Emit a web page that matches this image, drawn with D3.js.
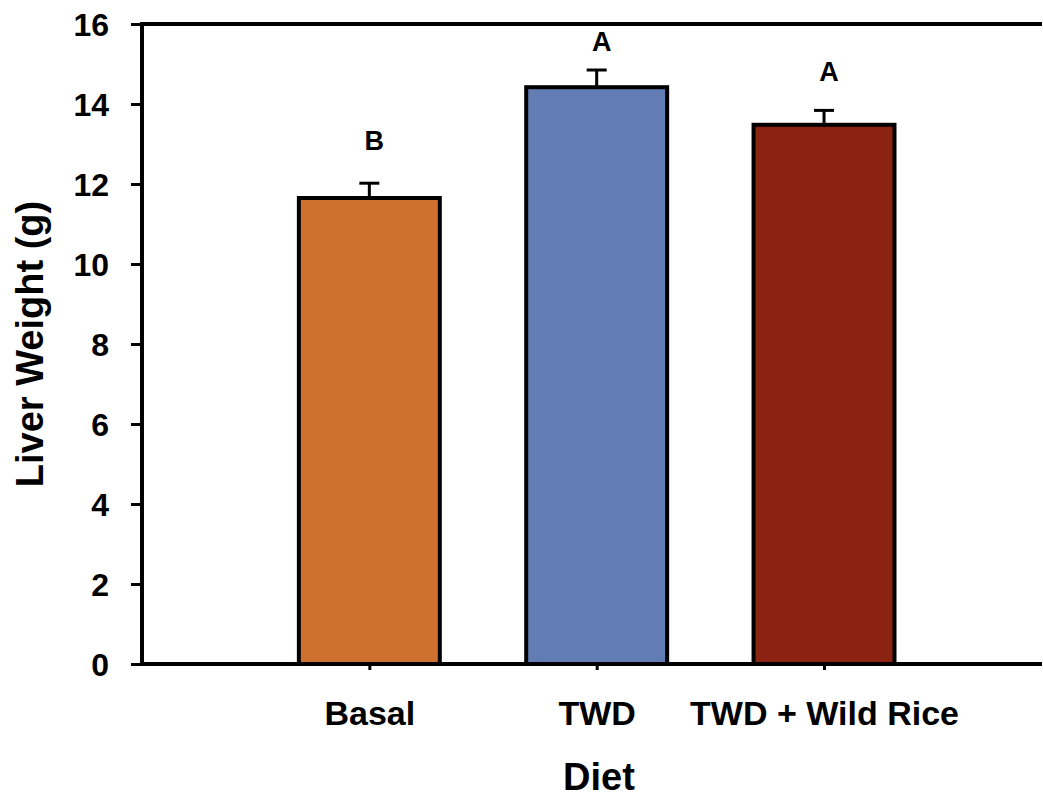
<!DOCTYPE html>
<html>
<head>
<meta charset="utf-8">
<script src="https://cdnjs.cloudflare.com/ajax/libs/d3/7.8.5/d3.min.js"></script>
<style>
  body { margin: 0; background: #fff; }
  text { font-family: "Liberation Sans", Arial, sans-serif; font-weight: bold; }
</style>
</head>
<body>
<div class="chart-container"></div>
<script>
const svgWidth = 1043;
const svgHeight = 798;

const diets = ["Basal", "TWD", "TWD + Wild Rice"];
const liverWeight = [11.65, 14.42, 13.48];
const liverErr = [0.37, 0.43, 0.36];
const sigLetters = ["B", "A", "A"];
const sigLetterY = [12.85, 15.33, 14.58];
const barColors = ["#CD7030", "#617DB4", "#8B2312"];
const yTicks = [0, 2, 4, 6, 8, 10, 12, 14, 16];

const plotLeft = 142, plotRight = 1040, plotTop = 24, plotBottom = 664;

const svg = d3.select(".chart-container")
  .append("svg")
  .attr("width", svgWidth)
  .attr("height", svgHeight);

const xScale = d3.scaleLinear().domain([0, 3.95]).range([plotLeft, plotRight]);
const yScale = d3.scaleLinear().domain([0, 16]).range([plotBottom, plotTop]);
const barW = xScale(0.62) - xScale(0);

// bars
svg.selectAll("rect.bar")
  .data(liverWeight)
  .enter().append("rect")
  .attr("class", "bar")
  .attr("x", (d, i) => xScale(i + 1) - barW / 2)
  .attr("y", d => yScale(d))
  .attr("width", barW)
  .attr("height", d => plotBottom - yScale(d))
  .style("fill", (d, i) => barColors[i])
  .style("stroke", "#000")
  .style("stroke-width", 4);

// error bars (upper only)
const err = svg.append("g").style("stroke", "#000").style("stroke-width", 3);
liverWeight.forEach(function(v, i) {
  let cx = xScale(i + 1);
  err.append("line")
    .attr("x1", cx).attr("x2", cx)
    .attr("y1", yScale(v)).attr("y2", yScale(v + liverErr[i]));
  err.append("line")
    .attr("x1", cx - 10).attr("x2", cx + 10)
    .attr("y1", yScale(v + liverErr[i])).attr("y2", yScale(v + liverErr[i]));
});

// significance letters
svg.selectAll("text.sig")
  .data(sigLetters)
  .enter().append("text")
  .attr("class", "sig")
  .attr("x", (d, i) => xScale(i + 1) + 5)
  .attr("y", (d, i) => yScale(sigLetterY[i]))
  .attr("text-anchor", "middle")
  .style("font-size", "27px")
  .text(d => d);

// y axis
const yAxis = d3.axisLeft(yScale).tickValues(yTicks).tickSize(11).tickPadding(22);
const gy = svg.append("g").attr("transform", "translate(" + plotLeft + ",0)").call(yAxis);
gy.select(".domain").remove();
gy.selectAll(".tick line").style("stroke-width", 3);
gy.selectAll(".tick text").style("font-size", "32px").attr("dy", "0.36em").style("font-family", "Liberation Sans, Arial, sans-serif");

// x axis
const xAxis = d3.axisBottom(xScale).tickValues([1, 2, 3]).tickFormat((d) => diets[d - 1]).tickSize(6).tickPadding(31);
const gx = svg.append("g").attr("transform", "translate(0," + plotBottom + ")").call(xAxis);
gx.select(".domain").remove();
gx.selectAll(".tick line").style("stroke-width", 3);
gx.selectAll(".tick text").style("font-size", "34px").style("font-family", "Liberation Sans, Arial, sans-serif");

// frame lines
const frame = svg.append("g").style("stroke", "#000").style("stroke-width", 4).style("stroke-linecap", "square");
frame.append("line").attr("x1", plotLeft).attr("x2", plotLeft).attr("y1", plotTop).attr("y2", plotBottom);
frame.append("line").attr("x1", plotLeft).attr("x2", plotRight).attr("y1", plotBottom).attr("y2", plotBottom);
frame.append("line").attr("x1", plotLeft).attr("x2", plotRight).attr("y1", plotTop).attr("y2", plotTop);

// axis titles
svg.append("text")
  .attr("transform", "translate(43," + (plotTop + plotBottom) / 2 + ") rotate(-90)")
  .attr("text-anchor", "middle")
  .style("font-size", "38px")
  .text("Liver Weight (g)");

svg.append("text")
  .attr("x", 599)
  .attr("y", 790)
  .attr("text-anchor", "middle")
  .style("font-size", "38px")
  .text("Diet");
</script>
</body>
</html>
